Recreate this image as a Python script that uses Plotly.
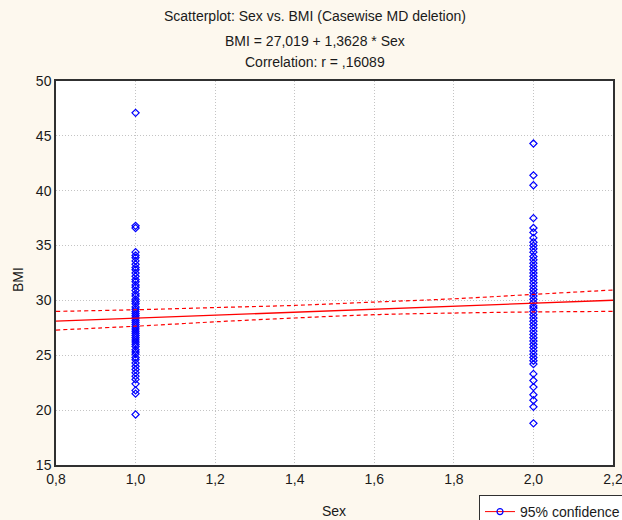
import plotly.graph_objects as go

# ---- data ----
sex1_bmi = [47.1, 36.8, 36.6, 34.4, 34.1, 33.9, 33.6, 33.3, 33.0, 32.8, 32.5, 32.2,
            31.9, 31.7, 31.4, 31.2, 30.9, 30.6, 30.4, 30.1, 29.9, 29.7, 29.4, 29.2,
            29.0, 28.8, 28.6, 28.4, 28.2, 28.0, 27.8, 27.6, 27.4, 27.2, 27.0, 26.8,
            26.6, 26.4, 26.2, 26.0, 25.8, 25.5, 25.3, 25.1, 24.8, 24.6, 24.3, 24.0,
            23.7, 23.4, 23.1, 22.8, 22.4, 21.8, 21.5, 19.6]
sex2_bmi = [44.3, 41.4, 40.5, 37.5, 36.6, 36.2, 35.7, 35.3, 35.0, 34.7, 34.4, 34.0,
            33.7, 33.4, 33.1, 32.8, 32.5, 32.2, 31.9, 31.6, 31.3, 31.0, 30.7, 30.4,
            30.1, 29.8, 29.5, 29.3, 29.0, 28.7, 28.4, 28.1, 27.8, 27.5, 27.2, 26.9,
            26.6, 26.3, 26.0, 25.7, 25.4, 25.1, 24.8, 24.5, 24.2, 23.3, 22.7, 22.1,
            21.4, 20.9, 20.3, 18.8]

intercept = 27.019
slope = 1.3628

ci_x = [0.8, 1.0, 1.2, 1.4, 1.6, 1.8, 2.0, 2.2]
ci_lower = [27.3, 27.65, 28.05, 28.4, 28.7, 28.85, 28.95, 29.0]
ci_upper = [29.0, 29.15, 29.35, 29.55, 29.85, 30.15, 30.55, 30.95]

x_ticks = [0.8, 1.0, 1.2, 1.4, 1.6, 1.8, 2.0, 2.2]
x_ticktext = ["0,8", "1,0", "1,2", "1,4", "1,6", "1,8", "2,0", "2,2"]
y_ticks = [15, 20, 25, 30, 35, 40, 45, 50]

title_lines = ["Scatterplot: Sex vs. BMI (Casewise MD deletion)",
               "BMI = 27,019 + 1,3628 * Sex",
               "Correlation: r = ,16089"]

FONT = "Liberation Sans, Arial, sans-serif"
TXT = "#1a1a1a"
BLUE = "#0000FF"
RED = "#FF0000"

# plot-area geometry in page pixels
L, R, T, B = 56, 613, 81, 465
W, H = R - L, B - T


def px_x(p):
    return (p - L) / W


def px_y(p):
    return (B - p) / H


fig = go.Figure()

# scatter points
fig.add_trace(go.Scatter(
    x=[1.0] * len(sex1_bmi) + [2.0] * len(sex2_bmi),
    y=sex1_bmi + sex2_bmi,
    mode="markers",
    marker=dict(symbol="diamond-open", size=5.5, color=BLUE, line=dict(width=1.2, color=BLUE)),
    showlegend=False, hoverinfo="x+y"))

# regression line
line_x = [0.8, 2.2]
line_y = [intercept + slope * v for v in line_x]
fig.add_trace(go.Scatter(x=line_x, y=line_y, mode="lines",
                         line=dict(color=RED, width=1.3), showlegend=False))

# confidence band
fig.add_trace(go.Scatter(x=ci_x, y=ci_lower, mode="lines", line_shape="spline",
                         line=dict(color=RED, width=1.2, dash="4px,3px"), showlegend=False))
fig.add_trace(go.Scatter(x=ci_x, y=ci_upper, mode="lines", line_shape="spline",
                         line=dict(color=RED, width=1.2, dash="4px,3px"), showlegend=False))

# legend entry
fig.add_trace(go.Scatter(x=[None], y=[None], mode="lines+markers", name="95% confidence",
                         line=dict(color=RED, width=1),
                         marker=dict(symbol="circle-open", size=6, color=BLUE,
                                     line=dict(width=1.2, color=BLUE))))

axis_common = dict(
    showgrid=True, gridcolor="#C4C4C4", griddash="1px,2px", gridwidth=1,
    showline=True, linecolor="#303030", linewidth=1.5, mirror=True,
    zeroline=False, ticks="", automargin=False,
    tickfont=dict(family=FONT, size=14, color=TXT),
)

fig.update_xaxes(range=[0.8, 2.2], tickvals=x_ticks, ticktext=x_ticktext,
                 ticklabeloverflow="allow", **axis_common)
fig.update_yaxes(range=[15, 50], tickvals=y_ticks, **axis_common)

annotations = []
title_py = [16, 41, 62]
for txt, py in zip(title_lines, title_py):
    annotations.append(dict(
        text=txt, xref="paper", yref="paper",
        x=px_x(315), y=px_y(py),
        xanchor="center", yanchor="middle", showarrow=False,
        font=dict(family=FONT, size=14, color=TXT)))
annotations.append(dict(text="Sex", xref="paper", yref="paper", x=px_x(334), y=px_y(511),
                        xanchor="center", yanchor="middle", showarrow=False,
                        font=dict(family=FONT, size=14, color=TXT)))
annotations.append(dict(text="BMI", xref="paper", yref="paper", x=px_x(18), y=px_y(280),
                        xanchor="center", yanchor="middle", showarrow=False, textangle=-90,
                        font=dict(family=FONT, size=14, color=TXT)))

fig.update_layout(
    width=622, height=520,
    margin=dict(l=L, r=622 - R, t=T, b=520 - B, autoexpand=False),
    paper_bgcolor="#FDF8EE", plot_bgcolor="#FFFFFF",
    annotations=annotations,
    showlegend=True,
    legend=dict(x=px_x(479), y=px_y(495), xanchor="left", yanchor="top",
                bgcolor="#FFFFFF", bordercolor="#303030", borderwidth=1,
                font=dict(family=FONT, size=14, color=TXT),
                itemwidth=30, tracegroupgap=0),
)

fig.write_html("out.html")
